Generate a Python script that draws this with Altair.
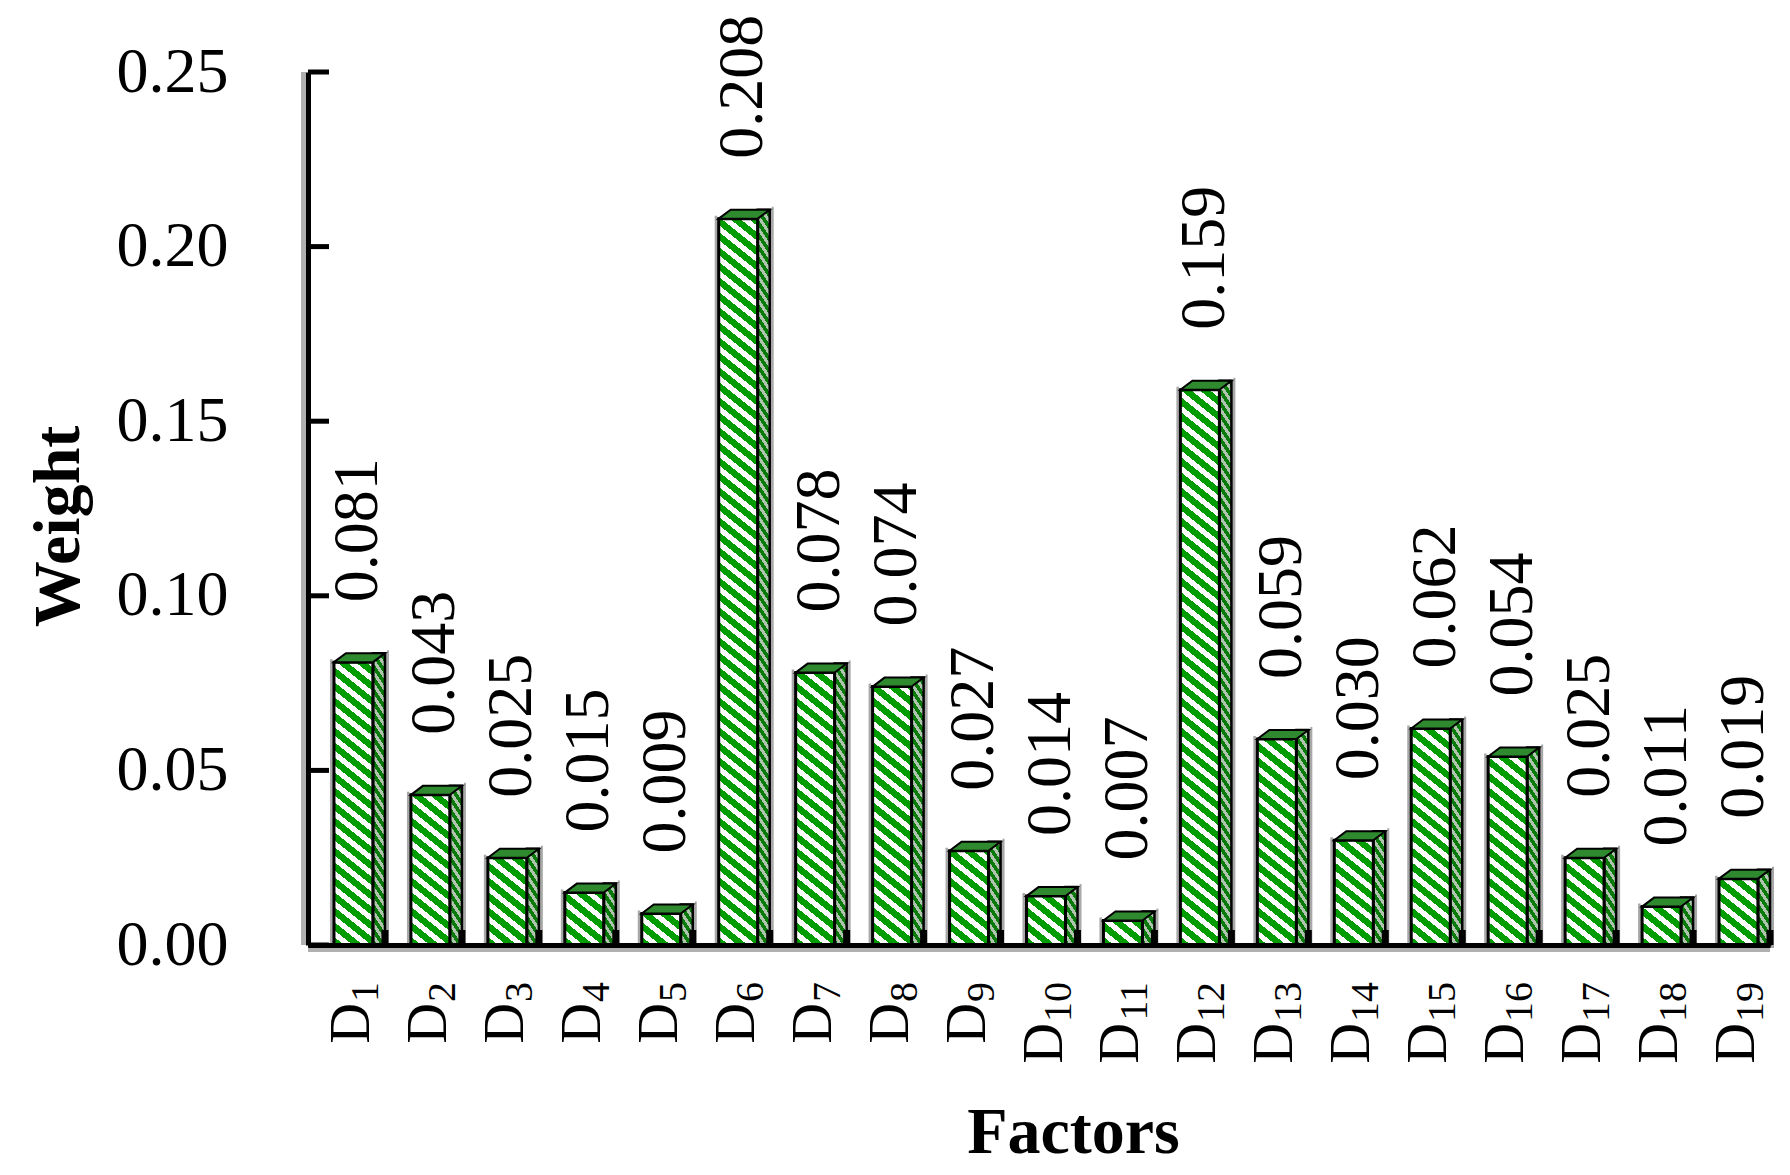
import altair as alt
import pandas as pd

factors = ["D1", "D2", "D3", "D4", "D5", "D6", "D7", "D8", "D9", "D10",
           "D11", "D12", "D13", "D14", "D15", "D16", "D17", "D18", "D19"]
weights = [0.081, 0.043, 0.025, 0.015, 0.009, 0.208, 0.078, 0.074, 0.027, 0.014,
           0.007, 0.159, 0.059, 0.030, 0.062, 0.054, 0.025, 0.011, 0.019]
y_ticks = [0.0, 0.05, 0.10, 0.15, 0.20, 0.25]

df = pd.DataFrame({"factor": factors, "w": weights})
# label pieces: main letter and subscript number (drawn as separate text marks)
df["main"] = [f[0] for f in factors]
df["sub"] = [f[1:] for f in factors]
ticks_df = pd.DataFrame({"t": y_ticks})

W, H = 1462, 873
YMAX = 0.25
BAND = W / len(factors)
FRONT_W, SIDE_W, DEPTH_Y = 39, 12, 9
FRONT_OFF, SIDE_OFF = 7, 32.5
FONT = "Liberation Serif"
SUB_SIZE = 40
LABEL_TOP = H + 37


def hatch(width, c1, c2, period=15.0, frac=0.55, k=0.8):
    """Diagonal stripe gradient (lines y = k*x + c) for a full-height bar of given pixel width."""
    a = k * width / H
    denom = H * (1 + a * a)

    def t(s):
        return round(min(1.0, max(0.0, (s + H) / denom)), 5)

    stops = []
    s = -H
    while s < k * width:
        m = s + frac * period
        e = s + period
        stops += [(t(s), c1), (t(m), c1), (t(m), c2), (t(e), c2)]
        s = e
    return {"gradient": "linear", "x1": 0, "y1": 1, "x2": a, "y2": 0,
            "stops": [{"offset": o, "color": c} for o, c in stops]}


front_grad = hatch(FRONT_W, "#009c00", "#ffffff")
side_grad = hatch(SIDE_W, "#0a7a0a", "#b0c4b0", period=12, k=1.5)

yscale = alt.Scale(domain=[0, YMAX], nice=False, zero=True)
xscale = alt.Scale(domain=factors, paddingInner=0, paddingOuter=0)

xaxis = alt.Axis(title="Factors", labels=False, ticks=False, zindex=1,
                 domainColor="black", domainWidth=5,
                 titleFont=FONT, titleFontSize=66, titleFontWeight="bold",
                 titleColor="black", titleX=765, titleY=207,
                 titleBaseline="alphabetic", titleAlign="center")
yaxis = alt.Axis(title="Weight", values=y_ticks, format=".2f", grid=False, zindex=1,
                 labelFont=FONT, labelFontSize=64, labelColor="black",
                 labelPadding=80, ticks=False, domainColor="black", domainWidth=5,
                 titleFont=FONT, titleFontSize=66, titleFontWeight="bold",
                 titleColor="black", titleAngle=270, titleX=-230, titleY=454,
                 titleBaseline="alphabetic", titleAlign="center")

base = alt.Chart(df)
X = alt.X("factor:N", scale=xscale, axis=xaxis, sort=factors)
Y = alt.Y("w:Q", scale=yscale, axis=yaxis)
Y_TOP = alt.datum(YMAX, scale=yscale, axis=yaxis)

# soft grey shadows of the axis lines
axis_shadow_y = base.mark_rule(color="#b0b0b0", strokeWidth=4).encode(
    x=alt.value(-4.5), y=alt.value(0), y2=alt.value(H))
axis_shadow_x = base.mark_rule(color="#b0b0b0", strokeWidth=4).encode(
    x=alt.value(0), x2=alt.value(W), y=alt.value(H + 4.5))

shadow_front = base.mark_bar(width=FRONT_W, xOffset=FRONT_OFF - 1, fill="transparent",
                             stroke="#a8a8a8", strokeWidth=6).encode(
    x=X, y=Y, y2=alt.datum(0))
shadow_side = base.mark_bar(width=SIDE_W, xOffset=SIDE_OFF + 1, yOffset=-DEPTH_Y,
                            fill="transparent", stroke="#a8a8a8", strokeWidth=6).encode(
    x=X, y=Y, y2=alt.datum(0))

hatch_front = base.mark_bar(width=FRONT_W, xOffset=FRONT_OFF, fill=front_grad).encode(
    x=X, y=Y_TOP, y2=alt.datum(0))
hatch_side = base.mark_bar(width=SIDE_W, xOffset=SIDE_OFF, fill=side_grad).encode(
    x=X, y=Y_TOP, y2=alt.datum(0))

mask_front = base.mark_bar(width=FRONT_W + 2, xOffset=FRONT_OFF - 0.5, fill="white").encode(
    x=X, y=Y, y2=alt.datum(YMAX))
mask_side = base.mark_bar(width=SIDE_W + 3, xOffset=SIDE_OFF + 0.5, yOffset=-DEPTH_Y,
                          fill="white").encode(x=X, y=Y, y2=alt.datum(YMAX))

outline_front = base.mark_bar(width=FRONT_W, xOffset=FRONT_OFF, fill="transparent",
                              stroke="black", strokeWidth=3).encode(
    x=X, y=Y, y2=alt.datum(0))
outline_side = base.mark_bar(width=SIDE_W, xOffset=SIDE_OFF, yOffset=-DEPTH_Y, fill="transparent",
                             stroke="black", strokeWidth=2.5).encode(
    x=X, y=Y, y2=alt.datum(0))

top_shape = "M-12.5,0L-0.5,-9L38.5,-9L26.5,0Z"
top_face = base.mark_point(shape=top_shape, size=4, filled=True, fill="#2f8a2f", opacity=1,
                           stroke="black", strokeWidth=2).encode(x=X, y=Y)

x_ticks = base.mark_rule(color="black", strokeWidth=7, xOffset=BAND / 2).encode(
    x=X, y=alt.value(H), y2=alt.value(H - 15))

y_tick_rules = alt.Chart(ticks_df).mark_rule(color="black", strokeWidth=5).encode(
    y=alt.Y("t:Q", scale=yscale, axis=yaxis), x=alt.value(0), x2=alt.value(21))

labels = base.mark_text(angle=270, align="left", baseline="middle", font=FONT, fontSize=64,
                        color="black", xOffset=12, yOffset=-60).encode(
    x=X, y=Y, text=alt.Text("w:Q", format=".3f"))

# category labels: "D" with a subscript number, reading bottom-to-top, top-aligned
cat_sub = base.mark_text(angle=270, align="right", baseline="alphabetic", font=FONT,
                         fontSize=SUB_SIZE, color="black", xOffset=31.5).encode(
    x=X, y=alt.value(LABEL_TOP), text="sub:N")
cat_main_1 = base.transform_filter("length(datum.sub) == 1").mark_text(
    angle=270, align="right", baseline="alphabetic", font=FONT, fontSize=56, color="black",
    xOffset=22.5).encode(x=X, y=alt.value(LABEL_TOP + SUB_SIZE * 0.5 + 1), text="main:N")
cat_main_2 = base.transform_filter("length(datum.sub) == 2").mark_text(
    angle=270, align="right", baseline="alphabetic", font=FONT, fontSize=56, color="black",
    xOffset=22.5).encode(x=X, y=alt.value(LABEL_TOP + SUB_SIZE * 1.0 + 1), text="main:N")

chart = alt.layer(
    axis_shadow_y, axis_shadow_x,
    shadow_front, shadow_side, hatch_front, hatch_side, mask_front, mask_side,
    outline_front, outline_side, top_face, x_ticks, y_tick_rules, labels,
    cat_sub, cat_main_1, cat_main_2
).properties(
    width=W, height=H,
    autosize=alt.AutoSizeParams(type="none"),
    padding={"left": 300, "top": 64, "right": 12, "bottom": 222},
    background="white",
).configure_view(stroke=None)

chart.save("out.html", embed_options={"renderer": "svg", "actions": False})
